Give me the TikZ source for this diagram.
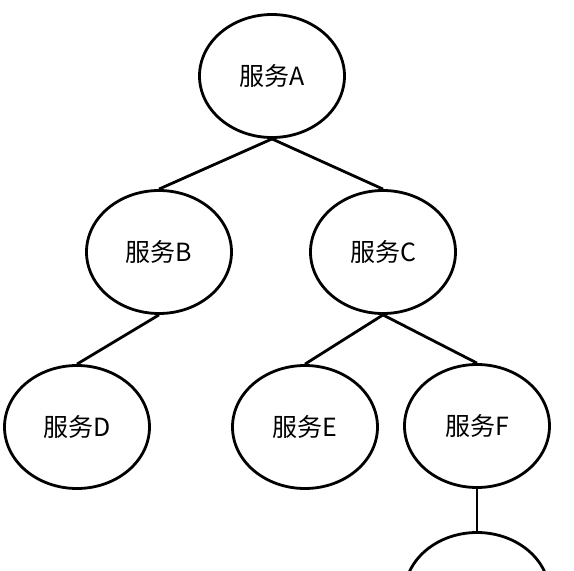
\documentclass[tikz,border=0pt]{standalone}
\usepackage{fontspec}
\setmainfont{Noto Sans CJK SC}
\usetikzlibrary{shapes.geometric}

\begin{document}
\begin{tikzpicture}[x=1pt,y=-1pt]
\tikzset{svc/.style={ellipse,draw,line width=2.8pt,inner sep=0pt,minimum width=145pt,minimum height=123pt,font=\fontsize{25}{27}\selectfont},
link/.style={line width=2.8pt}}
\clip (0,0) rectangle (574,571);
\fill[white] (0,0) rectangle (574,571);
\node[svc] (a) at (272,76) {服务A};
\node[svc] (b) at (159,252) {服务B};
\node[svc] (c) at (383,252) {服务C};
\node[svc] (d) at (77,427) {服务D};
\node[svc] (e) at (305,427) {服务E};
\node[svc] (f) at (477,426) {服务F};
\node[svc] (g) at (477,594) {};
\draw[link] (a.south) -- (b.north);
\draw[link] (a.south) -- (c.north);
\draw[link] (b.south) -- (d.north);
\draw[link] (c.south) -- (e.north);
\draw[link] (c.south) -- (f.north);
\draw[link] (f.south) -- (g.north);
\end{tikzpicture}
\end{document}
